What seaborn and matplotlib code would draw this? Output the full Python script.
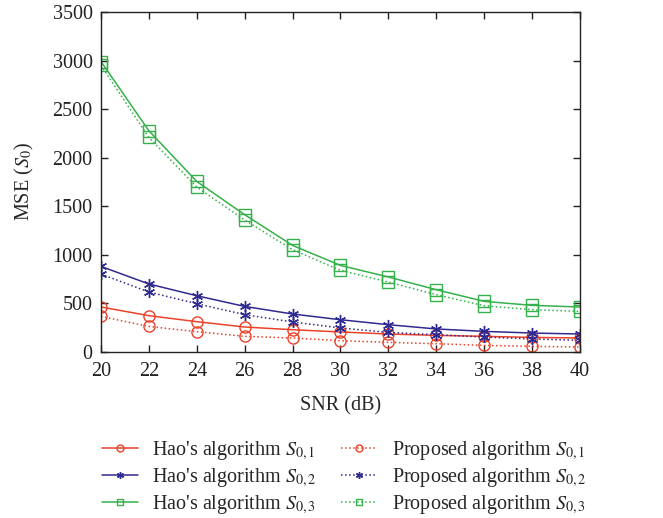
import numpy as np
import pandas as pd
import matplotlib
matplotlib.use("Agg")
import matplotlib.pyplot as plt
import seaborn as sns

snr = [20, 22, 24, 26, 28, 30, 32, 34, 36, 38, 40]
hao_s01 = [463, 374, 312, 257, 229, 206, 185, 171, 161, 150, 144]
hao_s02 = [881, 700, 579, 469, 391, 332, 281, 237, 212, 195, 185]
hao_s03 = [2990, 2277, 1755, 1413, 1097, 891, 772, 641, 521, 480, 463]
prop_s01 = [366, 263, 209, 161, 144, 116, 99, 85, 68, 58, 51]
prop_s02 = [802, 617, 497, 384, 309, 247, 202, 178, 154, 134, 120]
prop_s03 = [2950, 2208, 1698, 1358, 1053, 840, 720, 590, 476, 435, 418]

labels = [r"Hao's algorithm $S_{0,1}$", r"Hao's algorithm $S_{0,2}$", r"Hao's algorithm $S_{0,3}$",
          r"Proposed algorithm $S_{0,1}$", r"Proposed algorithm $S_{0,2}$", r"Proposed algorithm $S_{0,3}$"]
series = [hao_s01, hao_s02, hao_s03, prop_s01, prop_s02, prop_s03]

sns.set_style("ticks")
plt.rcParams['font.family'] = ['Liberation Serif', 'DejaVu Serif']
plt.rcParams['mathtext.fontset'] = 'stix'

red = '#ea4128'
blue = '#2f2a8f'
green = '#36b04a'
colors = [red, blue, green, red, blue, green]
markers = ['o', (6, 2, 0), 's', 'o', (6, 2, 0), 's']
styles = ['-', '-', '-', ':', ':', ':']

fig = plt.figure(figsize=(6.63, 5.18), dpi=100)
ax = fig.add_axes([0.1523, 0.3205, 0.7225, 0.6564])

for y, lab, c, m, ls in zip(series, labels, colors, markers, styles):
    df = pd.DataFrame({'SNR': snr, 'MSE': y})
    sns.lineplot(data=df, x='SNR', y='MSE', ax=ax, color=c, linestyle=ls, marker=m,
                 markersize=8, markerfacecolor='none', markeredgecolor=c, markeredgewidth=1.0,
                 linewidth=1.1, label=lab)

ax.set_xlim(20, 40)
ax.set_ylim(0, 3500)
ax.set_xticks(snr)
ax.set_yticks(np.arange(0, 3501, 500))
ax.tick_params(direction='in', top=True, right=True, labelsize=14.5, length=5, width=1,
               colors='#222222')
ax.tick_params(axis='x', pad=7)
ax.tick_params(axis='y', pad=6)
for s in ax.spines.values():
    s.set_linewidth(1.0)
    s.set_color('#222222')
ax.set_xlabel('SNR (dB)', fontsize=14.5, labelpad=11)
ax.set_ylabel(r'MSE ($S_0$)', fontsize=14.5, labelpad=12)

h, l = ax.get_legend_handles_labels()
ax.legend_.remove()
leg = fig.legend(h, l, ncol=2, loc='center', bbox_to_anchor=(0.519, 0.078),
                 frameon=False, fontsize=14.5, handlelength=1.8, columnspacing=1.2,
                 labelspacing=0.2, handletextpad=0.7, borderpad=0)
for lh in leg.legend_handles:
    lh.set_markersize(5)

fig.savefig('out.png', dpi=100)
